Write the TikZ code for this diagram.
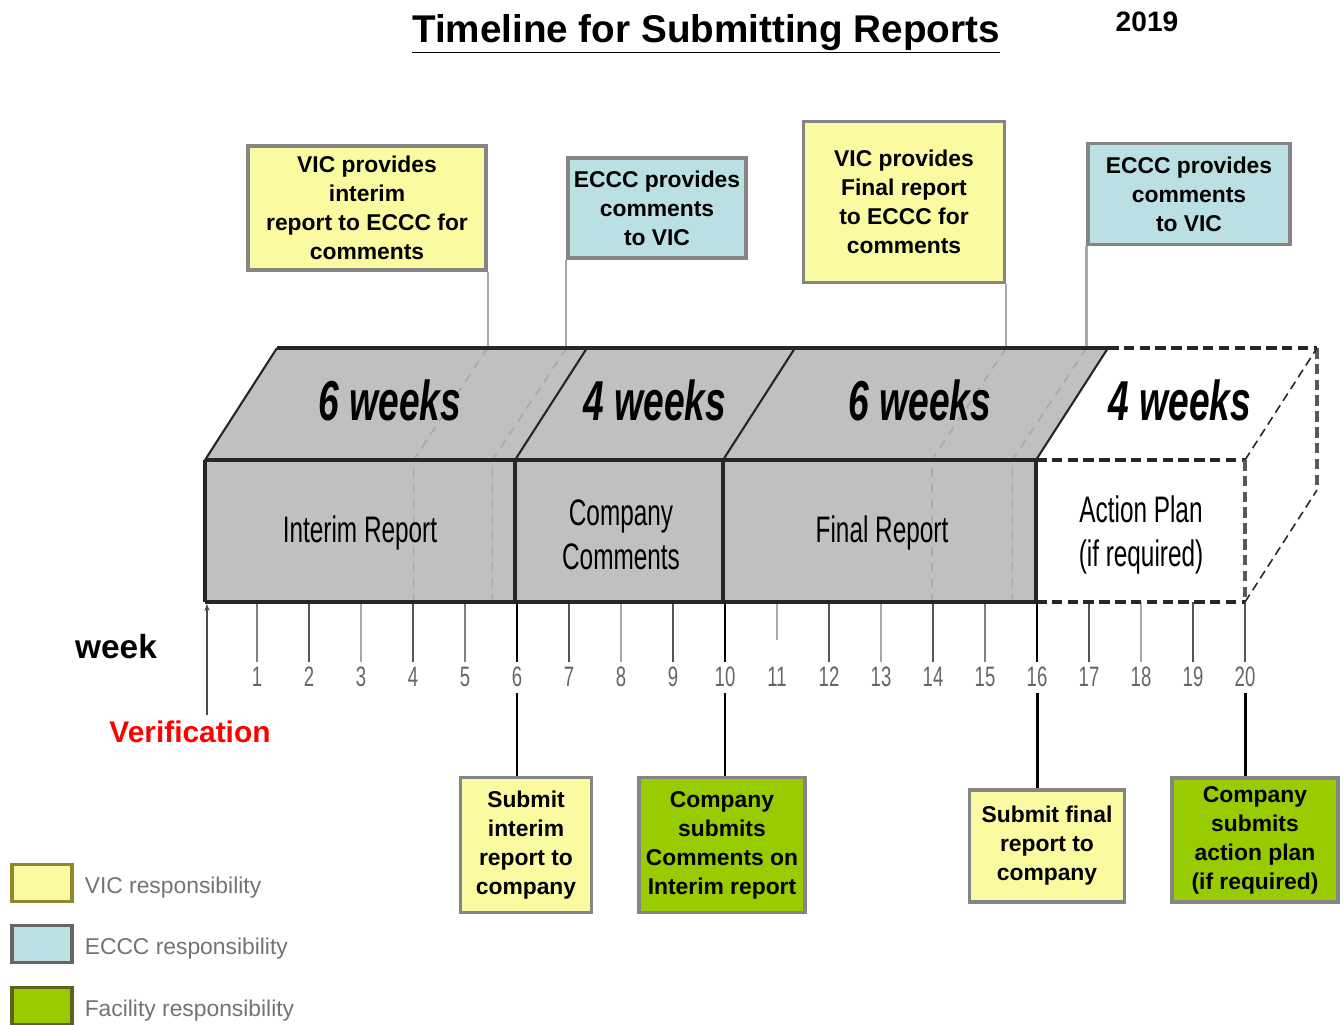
\documentclass[tikz,border=0pt]{standalone}
\usepackage{fontspec}
\setmainfont{Liberation Sans}
\newfontfamily\narrowfont[FakeStretch=0.66]{Liberation Sans}
\usetikzlibrary{positioning, arrows.meta, calc}
\definecolor{vicYellow}{HTML}{FAFAA0}
\definecolor{ecccBlue}{HTML}{BBE0E3}
\definecolor{facGreen}{HTML}{99CC00}
\definecolor{barGray}{HTML}{C0C0C0}
\definecolor{noteEdge}{HTML}{858585}
\definecolor{leaderGray}{HTML}{A8A8A8}
\definecolor{tickDark}{HTML}{555555}
\definecolor{tickMid}{HTML}{808080}
\definecolor{tickLight}{HTML}{A8A8A8}

\begin{document}
\begin{tikzpicture}[x=0.02cm, y=-0.02cm,
  note/.style={draw=noteEdge, line width=1.8pt, align=center, inner sep=0pt,
    font=\bfseries\fontsize{13}{16.5}\selectfont},
  vicnote/.style={note, fill=vicYellow},
  ecccnote/.style={note, fill=ecccBlue},
  facnote/.style={note, fill=facGreen},
  leader/.style={draw=leaderGray, line width=1.2pt},
  hidden/.style={draw=leaderGray, line width=0.9pt, dash pattern=on 5pt off 4pt},
  link/.style={draw=black, line width=1.7pt},
  rim/.style={draw=black!85, line width=2.6pt},
  seam/.style={draw=black!85, line width=1.2pt},
  planrim/.style={draw=black!85, line width=2.6pt, dash pattern=on 6pt off 3pt},
  planseam/.style={draw=black!85, line width=0.9pt, dash pattern=on 5pt off 3pt},
  facetext/.style={font=\narrowfont\fontsize{21}{25}\selectfont, align=center},
  spanlabel/.style={font=\narrowfont\bfseries\itshape\fontsize{32}{32}\selectfont},
  weeknum/.style={font=\narrowfont\fontsize{16}{16}\selectfont, text=black!60},
  legendtext/.style={font=\fontsize{13}{13}\selectfont, text=black!55, yshift=-0.1cm},
  keybox/.style={line width=1.8pt, minimum width=1.2cm, minimum height=0.74cm}
]
  \useasboundingbox (0,0) rectangle (1343,1025);

  % Title
  \node[font=\bfseries\fontsize{22}{22}\selectfont] (title) at (706,34)
    {\underline{Timeline for Submitting Reports}};
  \node[font=\bfseries\fontsize{16}{16}\selectfont] (year) at (1147,22) {2019};

  % Block faces
  \fill[barGray] (205,460) -- (277,348) -- (1108,348) -- (1036,460) -- cycle;
  \fill[barGray] (205,460) rectangle (1036,602);

  % Callouts above
  \node[vicnote, minimum width=4.76cm, minimum height=2.48cm] (vicint) at (367,208)
    {VIC provides\\interim\\report to ECCC for\\comments};
  \node[ecccnote, minimum width=3.56cm, minimum height=2.0cm] (ecccint) at (657,208)
    {ECCC provides\\comments\\to VIC};
  \node[vicnote, minimum width=4.02cm, minimum height=3.22cm] (vicfin) at (904,202)
    {VIC provides\\Final report\\to ECCC for\\comments};
  \node[ecccnote, minimum width=4.04cm, minimum height=2.02cm] (ecccfin) at (1189,194)
    {ECCC provides\\comments\\to VIC};

  % Leader lines
  \coordinate (d1) at (vicint.south east |- 0,348);
  \coordinate (d2) at (ecccint.south west |- 0,348);
  \coordinate (d3) at (vicfin.south east |- 0,348);
  \coordinate (d4) at (ecccfin.south west |- 0,348);
  \draw[leader] (vicint.south east) -- (d1);
  \draw[leader] (ecccint.south west) -- (d2);
  \draw[leader] (vicfin.south east) -- (d3);
  \draw[leader] (ecccfin.south west) -- (d4);
  \foreach \d in {d1,d2,d3,d4}
    \draw[hidden] (\d) -- ++(-74,112) -- ++(0,142);

  % Ticks
  \foreach \k/\tc in {1/tickMid,2/tickDark,3/tickLight,4/tickDark,5/tickMid,
      6/black,7/tickDark,8/tickLight,9/tickDark,10/black,12/tickDark,
      13/tickLight,14/tickDark,15/tickMid,16/black,17/tickDark,18/tickLight,
      19/tickDark,20/tickDark}
    \draw[\tc, line width=1.2pt] ({205+52*\k},602) -- ++(0,60);
  \draw[tickLight, line width=1.2pt] (777,602) -- ++(0,38);
  \foreach \k in {1,...,20}
    \node[weeknum] (wk\k) at ({205+52*\k},677) {\k};

  % Block edges
  \draw[rim] (205,602) -- (1036,602);
  \draw[rim] (205,460) -- (1036,460);
  \draw[rim] (277,348) -- (1108,348);
  \draw[seam, line width=1.8pt] (205,460) -- (205,602);
  \draw[seam] (205,460) -- (277,348);
  \foreach \x in {515,723,1036} {
    \draw[seam, line width=1.8pt] (\x,460) -- (\x,602);
    \draw[seam] (\x,460) -- ++(72,-112);
  }
  % Action plan (dashed)
  \draw[planrim] (1036,460) -- (1245,460);
  \draw[planrim] (1036,602) -- (1245,602);
  \draw[planrim] (1108,348) -- (1317,348);
  \draw[planrim, draw=black!65] (1245,460) -- (1245,602);
  \draw[planrim, draw=black!65] (1317,348) -- (1317,490);
  \draw[planseam] (1245,460) -- (1317,348);
  \draw[planseam] (1245,602) -- (1317,490);

  % Face texts
  \node[spanlabel] (span1) at (390,400) {6 weeks};
  \node[spanlabel] (span2) at (655,400) {4 weeks};
  \node[spanlabel] (span3) at (920,400) {6 weeks};
  \node[spanlabel] (span4) at (1180,400) {4 weeks};
  \node[facetext] (interim) at (360,533) {Interim Report};
  \node[facetext] (comments) at (621,535) {Company\\Comments};
  \node[facetext] (final) at (882,533) {Final Report};
  \node[facetext] (plan) at (1141,535) {Action Plan\\(if required)};

  % Week axis labels
  \node[font=\bfseries\fontsize{19}{19}\selectfont] (weeklbl) at (116,647) {week};
  \node[font=\bfseries\fontsize{17}{17}\selectfont, text=red] (verif) at (190,732) {Verification};
  \coordinate (origin) at (207,604);
  \draw[-{Stealth[length=4pt]}, line width=0.9pt, black!70] (verif.north -| origin) -- (origin);

  % Callouts below
  \node[vicnote, minimum width=2.62cm, minimum height=2.7cm] (subint) at (526,845)
    {Submit\\interim\\report to\\company};
  \node[facnote, minimum width=3.32cm, minimum height=2.7cm] (coint) at (722,845)
    {Company\\submits\\Comments on\\Interim report};
  \node[vicnote, minimum width=3.1cm, minimum height=2.24cm] (subfin) at (1047,846)
    {Submit final\\report to\\company};
  \node[facnote, minimum width=3.32cm, minimum height=2.48cm] (coplan) at (1255,840)
    {Company\\submits\\action plan\\(if required)};

  % Links
  \draw[link] (wk6.south) -- (wk6.south |- subint.north);
  \draw[link] (wk10.south) -- (wk10.south |- coint.north);
  \draw[link] (wk16.south) -- (wk16.south |- subfin.north);
  \draw[link] (wk20.south) -- (wk20.south |- coplan.north);

  % Legend
  \node[keybox, draw=olive!70!gray, fill=vicYellow] (keyvic) at (42,883) {};
  \node[keybox, draw=gray!80!black, fill=ecccBlue] (keyeccc) at (42,944) {};
  \node[keybox, draw=olive!60!black, fill=facGreen] (keyfac) at (42,1006) {};
  \node[legendtext, right=0.1cm of keyvic] (txtvic) {VIC responsibility};
  \node[legendtext, right=0.1cm of keyeccc] (txteccc) {ECCC responsibility};
  \node[legendtext, right=0.1cm of keyfac] (txtfac) {Facility responsibility};
\end{tikzpicture}
\end{document}
